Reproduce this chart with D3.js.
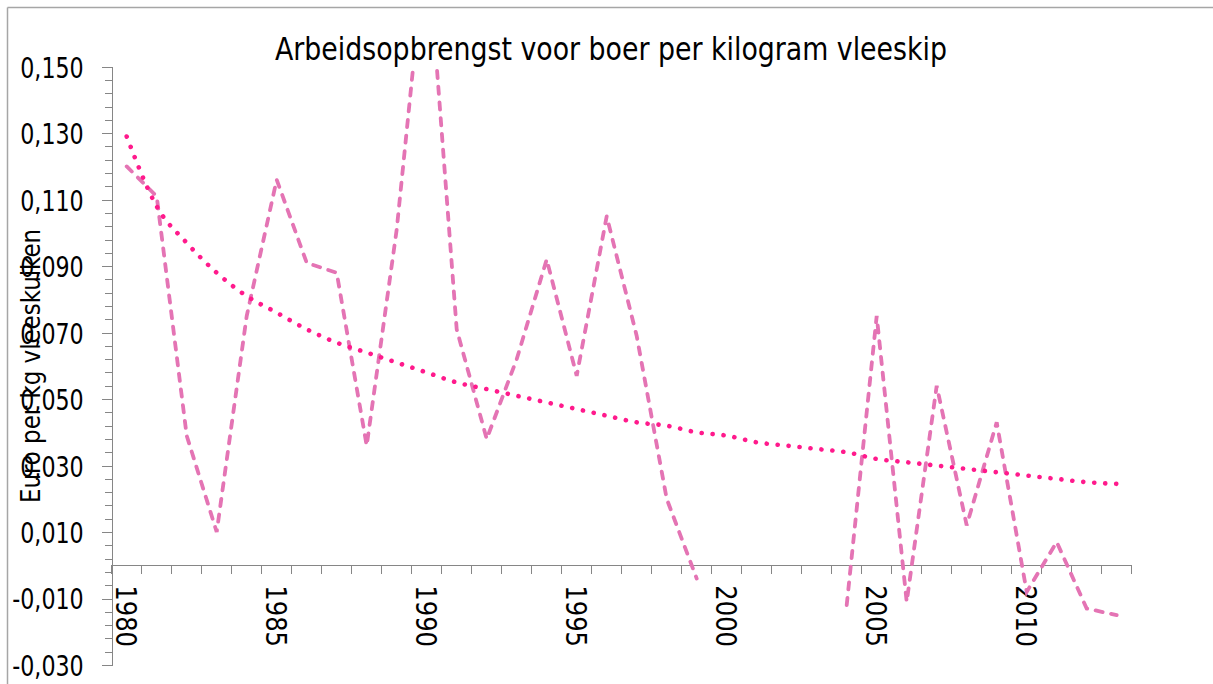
<!DOCTYPE html>
<meta charset="utf-8">
<style>
body { margin: 0; background: #fff; }
text { font-family: "Liberation Sans Narrow", "DejaVu Sans Condensed", "Arial Narrow", sans-serif; fill: #000; }
.axis path, .axis line { stroke: #868686; stroke-width: 1px; fill: none; shape-rendering: crispEdges; }
.value { fill: none; stroke: #e474b4; stroke-width: 3.8px; stroke-dasharray: 7.2 8.6; stroke-linecap: round; }
.trend { fill: none; stroke: #ff1a8c; stroke-width: 4.6px; stroke-dasharray: 0.1 10.9; stroke-linecap: round; }
</style>
<body>
<script src="https://cdn.jsdelivr.net/npm/d3@7"></script>
<script>

var years = d3.range(1980, 2014)
// euro per kg; 2000-2003 have no value
var opbrengst = [0.120, 0.111, 0.039, 0.010, 0.075, 0.116, 0.091, 0.088, 0.036, 0.101,
                 0.190, 0.071, 0.038, 0.062, 0.092, 0.057, 0.105, 0.069, 0.020, -0.004,
                 null, null, null, null, -0.012, 0.075, -0.011, 0.054, 0.012, 0.043,
                 -0.008, 0.007, -0.013, -0.015]
// logarithmic trend line as drawn
var trend = [0.129, 0.108, 0.097, 0.088, 0.081, 0.076, 0.071, 0.067, 0.064, 0.061,
             0.058, 0.055, 0.053, 0.051, 0.049, 0.047, 0.045, 0.043, 0.042, 0.040,
             0.039, 0.037, 0.036, 0.035, 0.034, 0.032, 0.031, 0.030, 0.029, 0.028,
             0.027, 0.026, 0.025, 0.0245]
var yTicks = [-0.03, -0.01, 0.01, 0.03, 0.05, 0.07, 0.09, 0.11, 0.13, 0.15]
var xLabels = [1980, 1985, 1990, 1995, 2000, 2005, 2010]

var width = 1213, height = 684

var svg = d3.select("body").append("svg")
    .attr("width", width)
    .attr("height", height)

// outer frame
svg.append("line").attr("x1", 7.5).attr("x2", 7.5).attr("y1", 7.5).attr("y2", height)
    .attr("stroke", "#a6a6a6").attr("stroke-width", 1.5)
svg.append("line").attr("x1", 7.5).attr("x2", width).attr("y1", 7.5).attr("y2", 7.5)
    .attr("stroke", "#a6a6a6").attr("stroke-width", 1.5)

var plotLeft = 111.7, plotRight = 1131.7, plotTop = 66.7, plotBottom = 665

var x = d3.scaleBand().domain(years).range([plotLeft, plotRight])
var y = d3.scaleLinear().domain([-0.03, 0.15]).range([plotBottom, plotTop])
var fmt = function(d) { return d3.format(".3f")(d).replace(".", ",").replace("−", "-") }

// squeeze glyphs so the fallback font looks as narrow as the original
function narrow(sel, f) {
  sel.each(function() {
    d3.select(this).attr("textLength", this.getComputedTextLength() * f)
      .attr("lengthAdjust", "spacingAndGlyphs")
  })
}

svg.append("defs").append("clipPath").attr("id", "plot")
  .append("rect").attr("x", plotLeft).attr("y", plotTop)
    .attr("width", plotRight - plotLeft).attr("height", plotBottom - plotTop)

// y axis: minor ticks then major ticks with labels
svg.append("g").attr("class", "axis")
    .attr("transform", "translate(" + plotLeft + ",0)")
    .call(d3.axisLeft(y).tickValues(d3.range(-0.03, 0.1501, 0.004)).tickSize(7).tickFormat(""))
svg.append("g").attr("class", "axis")
    .attr("transform", "translate(" + plotLeft + ",0)")
    .call(d3.axisLeft(y).tickValues(yTicks).tickSize(10).tickPadding(18).tickFormat(fmt))
  .call(function(g) {
    g.select(".domain").remove()
    g.selectAll("text").style("font-size", "29px").attr("dy", "0.36em")
    narrow(g.selectAll("text"), 0.85)
  })

// x axis at zero
var xa = svg.append("g").attr("class", "axis")
    .attr("transform", "translate(0," + y(0) + ")")
xa.append("line").attr("x1", plotLeft).attr("x2", plotRight)
xa.selectAll(".tk").data(years.concat([2014])).enter().append("line")
    .attr("x1", function(d) { return d < 2014 ? x(d) : plotRight })
    .attr("x2", function(d) { return d < 2014 ? x(d) : plotRight })
    .attr("y1", 0).attr("y2", 9)
xa.selectAll(".lab").data(xLabels).enter().append("text")
    .attr("transform", function(d) { return "translate(" + (x(d) + x.bandwidth() / 2) + ",20) rotate(90)" })
    .attr("dy", "0.36em")
    .style("font-size", "29px")
    .text(function(d) { return d })
    .call(narrow, 0.93)

var plot = svg.append("g").attr("clip-path", "url(#plot)")

var line = d3.line()
    .defined(function(d) { return d[1] !== null })
    .x(function(d) { return x(d[0]) + x.bandwidth() / 2 })
    .y(function(d) { return y(d[1]) })

plot.append("path").attr("class", "value")
    .attr("d", line(years.map(function(d, i) { return [d, opbrengst[i]] })))

plot.append("path").attr("class", "trend")
    .attr("d", line.curve(d3.curveMonotoneX)(years.map(function(d, i) { return [d, trend[i]] })))

// titles
svg.append("text")
    .attr("x", 611).attr("y", 60)
    .attr("text-anchor", "middle")
    .attr("textLength", 672).attr("lengthAdjust", "spacingAndGlyphs")
    .style("font-size", "32px")
    .text("Arbeidsopbrengst voor boer per kilogram vleeskip")

svg.append("text")
    .attr("transform", "translate(40,366) rotate(-90)")
    .attr("text-anchor", "middle")
    .style("font-size", "26px")
    .text("Euro per kg vleeskuiken")
    .call(narrow, 0.98)
</script>
